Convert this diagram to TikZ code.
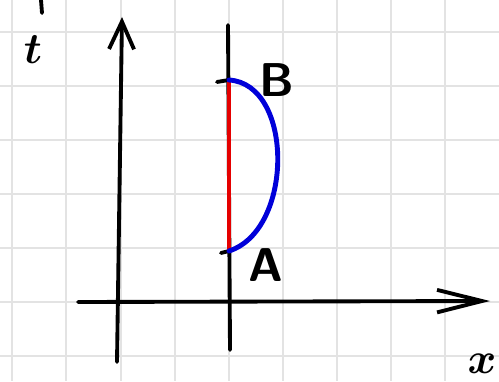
\documentclass[tikz,border=0pt]{standalone}
\usetikzlibrary{arrows.meta}
\begin{document}
\begin{tikzpicture}[
   x=0.02cm, y=-0.02cm,
   gridline/.style={draw=black!11, line width=1.3pt},
   ink/.style={line width=2.2pt, line cap=round},
   taxis/.style={ink, -{Straight Barb[length=5.5mm,width=5mm]}},
   xaxis/.style={ink, -{Straight Barb[length=9mm,width=4.5mm]}},
   lab/.style={font=\fontsize{33}{36}\selectfont\boldmath, inner sep=0pt},
   plab/.style={font=\fontsize{27}{30}\selectfont\sffamily\bfseries, inner sep=0pt}
]
\useasboundingbox (0,0) rectangle (499,381);
% squared paper
\foreach \gx in {12,66,121,175,229,283,337,391,445}
   \draw[gridline] (\gx,0) -- (\gx,381);
\foreach \gy in {32,86,140,194,248,302,356}
   \draw[gridline] (0,\gy) -- (499,\gy);

\coordinate (Tbot) at (117,362);
\coordinate (Ttop) at (122,17);
\coordinate (Xleft) at (78,302);
\coordinate (Xright) at (490,301);
\coordinate (Lbot) at (230,350);
\coordinate (Ltop) at (228,25);
\coordinate (B) at (229,80);
\coordinate (A) at (229,251);
\coordinate (Bmark) at (217,82);
\coordinate (Amark) at (221,253);
\coordinate (S0) at (41,0);
\coordinate (S1) at (42,13);

\draw[taxis] (Tbot) -- (Ttop);
\draw[xaxis] (Xleft) -- (Xright);
\draw[ink] (Lbot) -- (Ltop);
\draw[ink] (Bmark) -- (B);
\draw[ink] (Amark) -- (A);
\draw[ink] (S0) -- (S1);
\draw[ink, red!90!black] (A) -- (B);
\draw[ink, blue!85!black, line width=2.8pt]
   (A) .. controls (294,230) and (294,84) .. (B);

\node[lab] (tlab) at (33,50) {$t$};
\node[plab] (Blab) at (277,80) {B};
\node[plab] (Alab) at (266,265) {A};
\node[lab] (xlab) at (482,364) {$x$};
\end{tikzpicture}
\end{document}
